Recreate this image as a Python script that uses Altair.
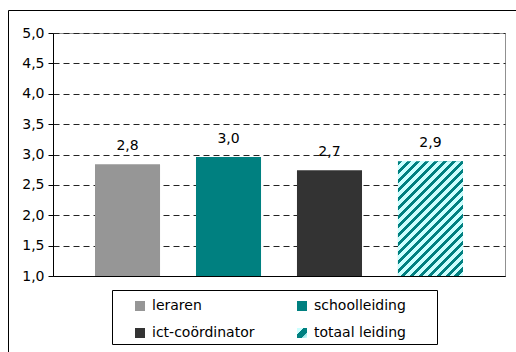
import altair as alt
import pandas as pd

categories = ["leraren", "schoolleiding", "ict-coördinator", "totaal leiding"]
values = [2.84, 2.96, 2.74, 2.89]
y_ticks = [1.0, 1.5, 2.0, 2.5, 3.0, 3.5, 4.0, 4.5, 5.0]

TEAL = "#008080"
CYAN = "#CCFFFF"
FONT = "DejaVu Sans"

PLOT_W, PLOT_H = 452, 243
Y_MIN, Y_MAX = 1.0, 5.0

df = pd.DataFrame({"category": categories, "value": values})

# --- hatch for the 'totaal leiding' bar (diagonal stripes via a striped linear gradient)
hatch_val = values[categories.index("totaal leiding")]
BAR_W = 65.0
BAR_H = (hatch_val - Y_MIN) / (Y_MAX - Y_MIN) * PLOT_H
k = (BAR_W + BAR_H) * BAR_H / (BAR_W ** 2 + BAR_H ** 2)
gx2 = BAR_W / BAR_H * k
gy2 = k
n_periods = int(round((BAR_W + BAR_H) / 9.0))
stops = []
for i in range(n_periods):
    o0 = i / n_periods
    o1 = (i + 0.5) / n_periods
    o2 = (i + 1) / n_periods
    stops += [alt.GradientStop(offset=o0, color=TEAL), alt.GradientStop(offset=o1, color=TEAL),
              alt.GradientStop(offset=o1, color=CYAN), alt.GradientStop(offset=o2, color=CYAN)]
hatch = alt.Gradient(gradient="linear", stops=stops, x1=0, y1=0, x2=gx2, y2=gy2)

legend_grad = ("{gradient: 'linear', x1: 0, y1: 0, x2: 1, y2: 1, stops: ["
               "{offset: 0, color: '#CCFFFF'}, {offset: 0.3, color: '#CCFFFF'}, "
               "{offset: 0.3, color: '#008080'}, {offset: 0.72, color: '#008080'}, "
               "{offset: 0.72, color: '#99E0E0'}, {offset: 1, color: '#CCFFFF'}]}")

x_axis = alt.Axis(title=None, labels=False, ticks=False, domain=True,
                  domainColor="black", domainWidth=1, grid=False)
x_scale = alt.Scale(paddingInner=0.356, paddingOuter=0.416)
y_scale = alt.Scale(domain=[Y_MIN, Y_MAX], nice=False, zero=False)
y_axis = alt.Axis(title=None, values=y_ticks, format=".1f",
                  labelExpr="replace(datum.label, '.', ',')",
                  labelFont=FONT, labelFontSize=14, labelColor="black",
                  labelPadding=4, tickSize=5, tickColor="black",
                  domainColor="black", domainWidth=1, labelOverlap=False,
                  grid=True, gridColor="#222222", gridDash=[6, 4], gridWidth=1)


def xe():
    return alt.X("category:N", sort=categories, scale=x_scale, axis=x_axis)


def ye():
    return alt.Y("value:Q", scale=y_scale, axis=y_axis)


base = alt.Chart(df)

bars = base.mark_bar().encode(
    x=xe(),
    y=ye(),
    y2=alt.datum(Y_MIN),
    color=alt.Color("category:N",
                    scale=alt.Scale(domain=categories,
                                    range=["#969696", TEAL, "#333333", {"expr": legend_grad}]),
                    legend=alt.Legend(title=None, orient="none", legendX=80, legendY=266,
                                      direction="horizontal",
                                      columns=2, columnPadding=40, rowPadding=13,
                                      padding=0, symbolType="square", symbolSize=100,
                                      symbolStrokeWidth=0, labelFont=FONT, labelFontSize=14,
                                      labelColor="black", labelOffset=5)),
)

hatched = base.transform_filter(alt.datum.category == "totaal leiding").mark_bar(color=hatch).encode(
    x=xe(), y=ye(), y2=alt.datum(Y_MIN)
)

labels = base.transform_calculate(
    lbl="replace(format(datum.value, '.1f'), '.', ',')"
).mark_text(baseline="alphabetic", dy=-14, font=FONT, fontSize=14, color="black").encode(
    x=xe(), y=ye(), text="lbl:N"
)

one = alt.Chart(pd.DataFrame({"a": [0]}))
legend_box = one.mark_rect(fill="white", stroke="black", strokeWidth=1).encode(
    x=alt.value(59.5), x2=alt.value(384.5), y=alt.value(257.5), y2=alt.value(311.5)
)
outer_frame = one.mark_rect(fillOpacity=0, stroke="black", strokeWidth=1).encode(
    x=alt.value(-44.5), x2=alt.value(700), y=alt.value(-22.5), y2=alt.value(700)
)

chart = alt.layer(outer_frame, legend_box, bars, hatched, labels).properties(
    width=PLOT_W, height=PLOT_H,
    autosize=alt.AutoSizeParams(type="none"),
    padding={"left": 53, "top": 33, "right": 11, "bottom": 76},
    background="white",
).configure_view(stroke="#909090", strokeWidth=1)

chart.save("out.html", embed_options={"renderer": "svg", "actions": False})
